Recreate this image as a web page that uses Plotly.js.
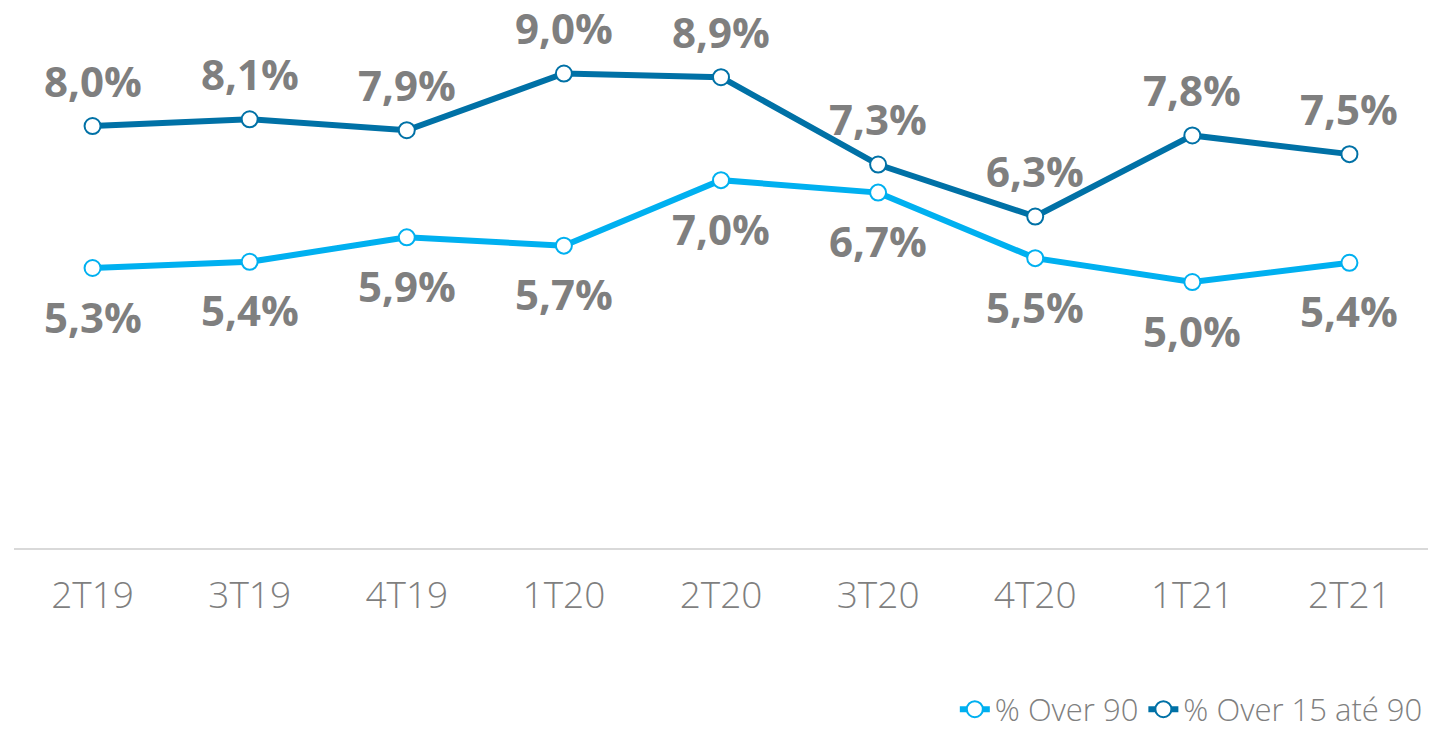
<!DOCTYPE html>
<html>
<head>
<meta charset="utf-8">
<script src="https://cdn.plot.ly/plotly-3.0.1.min.js"></script>
<style>
  html, body { margin: 0; padding: 0; background: #ffffff; }
  #chart { width: 1435px; height: 733px; }
</style>
</head>
<body>
<div id="chart"></div>
<script>
// ---- data ----
const categories = ['2T19', '3T19', '4T19', '1T20', '2T20', '3T20', '4T20', '1T21', '2T21'];
const over90 = [5.27, 5.39, 5.86, 5.70, 6.96, 6.72, 5.46, 5.00, 5.37];
const over15to90 = [8.00, 8.13, 7.92, 9.01, 8.94, 7.26, 6.26, 7.82, 7.46];
const seriesNames = ['% Over 90', '% Over 15 até 90'];

// ---- styles ----
const lightBlue = '#00B0F0';
const darkBlue = '#0071A6';
const gray = '#7f7f7f';
const fontFamily = '"Open Sans", "Noto Sans", sans-serif';

function fmt(v) { return v.toFixed(1).replace('.', ',') + '%'; }

function lineTrace(name, ys, color) {
  return {
    type: 'scatter',
    mode: 'lines+markers',
    name: name,
    x: categories,
    y: ys,
    line: { color: color, width: 6 },
    marker: { symbol: 'circle', size: 16, color: '#ffffff', line: { color: color, width: 2 } },
    hoverinfo: 'skip',
    cliponaxis: false
  };
}

const traces = [
  lineTrace(seriesNames[0], over90, lightBlue),
  lineTrace(seriesNames[1], over15to90, darkBlue)
];

const annotations = [];
categories.forEach((c, i) => {
  annotations.push({
    x: c, y: over15to90[i], xref: 'x', yref: 'y',
    text: fmt(over15to90[i]), showarrow: false,
    xanchor: 'center', yanchor: 'middle', yshift: 46,
    font: { family: fontFamily, size: 42, color: gray, weight: 700 }
  });
  annotations.push({
    x: c, y: over90[i], xref: 'x', yref: 'y',
    text: fmt(over90[i]), showarrow: false,
    xanchor: 'center', yanchor: 'middle', yshift: -48,
    font: { family: fontFamily, size: 42, color: gray, weight: 700 }
  });
});

const layout = {
  width: 1435,
  height: 733,
  margin: { l: 14, r: 7, t: 20, b: 185 },
  paper_bgcolor: '#ffffff',
  plot_bgcolor: '#ffffff',
  showlegend: true,
  xaxis: {
    type: 'category',
    range: [-0.5, 8.5],
    showgrid: false,
    zeroline: false,
    showline: true,
    linecolor: '#d9d9d9',
    linewidth: 2,
    ticks: '',
    ticklabelstandoff: 14,
    tickfont: { family: fontFamily, size: 37, color: gray, weight: 300 },
    fixedrange: true
  },
  yaxis: {
    range: [-0.115, 10.04],
    visible: false,
    showgrid: false,
    zeroline: false,
    fixedrange: true
  },
  legend: {
    orientation: 'h',
    xref: 'container', yref: 'container',
    x: 0.995, xanchor: 'right',
    y: 0.032, yanchor: 'middle',
    font: { family: fontFamily, size: 31, color: gray, weight: 300 },
    bgcolor: 'rgba(0,0,0,0)'
  },
  annotations: annotations
};

Plotly.newPlot('chart', traces, layout, { displayModeBar: false, staticPlot: true });
</script>
</body>
</html>
